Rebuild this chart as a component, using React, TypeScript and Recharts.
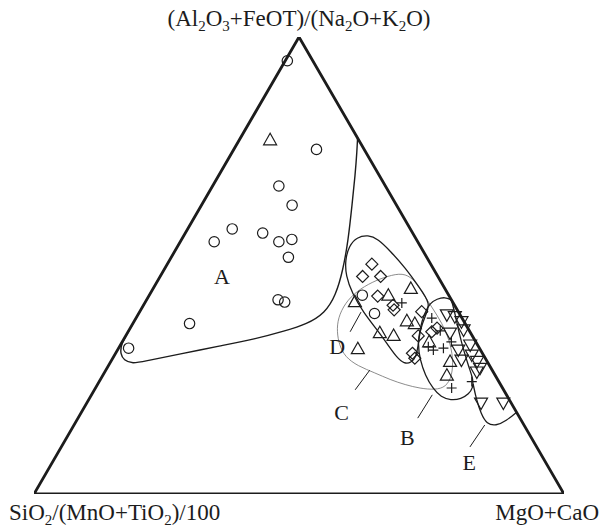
import { ComposedChart, Line, Scatter, XAxis, YAxis } from 'recharts';

// Ternary samples as [top, right] percentages; left = 100 - top - right.
// top = (Al2O3+FeOT)/(Na2O+K2O), left = SiO2/(MnO+TiO2)/100, right = MgO+CaO
type Tern = [number, number];

const circles: Tern[] = [
  [94.8, 0.4], [75.4, 15.6], [67.4, 12.5], [63.2, 17.1], [58.0, 8.4], [55.2, 6.4],
  [57.1, 14.6], [55.2, 18.6], [55.7, 20.8], [51.8, 22.1], [42.5, 24.8], [42.0, 26.3],
  [37.3, 10.7], [31.9, 1.9], [43.5, 40.2], [39.5, 44.5],
];
const triangles: Tern[] = [
  [77.5, 5.8], [42.1, 39.5], [43.5, 45.1], [45.0, 48.6], [35.3, 47.6], [34.7, 50.5],
  [31.8, 45.2], [37.9, 51.4], [37.3, 53.2], [29.0, 64.0], [26.0, 64.9], [33.3, 57.9],
];
const diamonds: Tern[] = [
  [50.3, 38.6], [47.6, 38.2], [47.6, 41.6], [43.3, 43.2], [41.3, 47.1], [40.3, 47.8],
  [39.9, 53.2], [34.6, 55.2], [30.8, 56.0], [29.7, 57.0], [35.5, 57.3], [36.3, 57.9],
];
const crosses: Tern[] = [
  [41.8, 48.5], [38.5, 55.8], [35.7, 58.8], [32.2, 58.3], [31.5, 59.6], [31.9, 61.3],
  [33.3, 62.1], [23.2, 67.2], [24.6, 70.3],
];
const invTriangles: Tern[] = [
  [39.2, 58.3], [38.8, 60.0], [37.7, 61.8], [35.9, 63.1], [35.2, 60.9], [31.5, 64.3],
  [32.6, 66.0], [30.4, 67.4], [29.3, 66.0], [29.0, 69.1], [27.5, 70.4], [26.7, 70.2],
  [19.9, 74.4], [19.9, 78.6],
];

// field outlines (corner points repeated so the spline keeps them sharp)
const fieldA: Tern[] = [
  [100, 0], [100, 0], [100, 0], [77.9, 22.1], [77.9, 22.1], [77.9, 22.1],
  [75.3, 23.3], [69.8, 25.7], [63.2, 28.4], [55.6, 31.5], [49.0, 33.8], [43.5, 35.2],
  [39.6, 35.1], [37.2, 32.9], [35.7, 29.5], [33.9, 24.7], [32.4, 18.9], [30.6, 12.2],
  [29.1, 6.4], [28.5, 4.3], [29.3, 2.3], [30.6, 1.0], [32.8, 0], [36.0, 0],
];
const fieldD: Tern[] = [
  [56.7, 34.7], [55.8, 37.0], [53.2, 40.6], [49.5, 45.3], [45.3, 50.0], [41.6, 54.1],
  [39.0, 54.3], [35.9, 54.9], [32.6, 56.2], [30.0, 57.1], [28.7, 56.8], [28.5, 55.6],
  [29.8, 53.6], [32.6, 50.5], [35.9, 46.8], [39.8, 42.2], [44.0, 38.0], [47.7, 35.0],
  [51.2, 33.1], [54.3, 32.3], [56.2, 32.8],
];
const fieldC: Tern[] = [
  [48.4, 45.4], [47.1, 48.0], [44.6, 50.7], [40.9, 54.6], [37.4, 58.3], [33.7, 61.5],
  [29.8, 64.2], [25.8, 66.0], [23.4, 66.0], [22.8, 64.3], [23.1, 61.3], [23.9, 58.1],
  [25.0, 54.7], [26.5, 51.1], [28.0, 47.1], [30.0, 43.7], [32.6, 41.3], [35.5, 39.4],
  [38.5, 38.1], [41.8, 37.8], [44.4, 38.7], [46.4, 40.6], [47.7, 42.9],
];
const fieldB: Tern[] = [
  [41.8, 53.8], [42.7, 54.7], [43.1, 56.0], [42.5, 57.5], [42.5, 57.5], [39.2, 59.9],
  [35.2, 62.6], [31.1, 65.6], [27.6, 68.3], [25.0, 70.4], [23.2, 71.2], [21.9, 71.1],
  [20.8, 70.2], [20.5, 68.4], [21.2, 66.2], [23.0, 63.8], [26.0, 60.8], [29.3, 58.2],
  [32.8, 56.0], [36.3, 54.7], [39.4, 53.9],
];
const fieldE: Tern[] = [
  [24.1, 70.8], [21.0, 72.9], [17.5, 75.6], [15.3, 77.8], [14.9, 79.7], [16.0, 81.1], [17.9, 82.1],
];
const leaders: Tern[][] = [
  [[35.5, 41.9], [39.8, 41.8]],
  [[22.8, 49.2], [27.1, 49.8]],
  [[16.6, 64.1], [21.7, 64.3]],
  [[10.3, 77.1], [15.1, 77.5]],
];
const fieldNames = ['A', 'B', 'C', 'D', 'E'];
const fieldLabelPos: Tern[] = [[47.5, 11.7], [12.3, 64.3], [17.9, 49.1], [32.2, 41.1], [6.8, 78.7]];
const frame: Tern[] = [[100, 0], [0, 100], [0, 0]];

// apex titles; "_" marks a subscript run
const topTitle = ['(Al', '_2', 'O', '_3', '+FeOT)/(Na', '_2', 'O+K', '_2', 'O)'];
const leftTitle = ['SiO', '_2', '/(MnO+TiO', '_2', ')/100'];
const rightTitle = ['MgO+CaO'];

// ternary -> plane (x along the base, y = height of apex)
const toXY = (pts: Tern[]) => pts.map(([t, r]) => ({ x: r + t / 2, y: t }));

const INK = '#1c1c1c';
const SERIF = '"Liberation Serif", "Times New Roman", serif';
const FONT = 23;

type Kind = 'circle' | 'tri' | 'diamond' | 'cross' | 'invtri';

const Marker = ({ cx, cy, kind }: { cx: number; cy: number; kind: Kind }) => {
  const common = { fill: 'none', stroke: INK, strokeWidth: 1.2 };
  if (kind === 'circle') return <circle cx={cx} cy={cy} r={5.2} {...common} />;
  if (kind === 'tri')
    return <polygon points={`${cx},${cy - 6.5} ${cx - 6.5},${cy + 5} ${cx + 6.5},${cy + 5}`} {...common} />;
  if (kind === 'invtri')
    return <polygon points={`${cx},${cy + 6.5} ${cx - 6.5},${cy - 5} ${cx + 6.5},${cy - 5}`} {...common} />;
  if (kind === 'diamond')
    return <polygon points={`${cx},${cy - 6} ${cx + 6},${cy} ${cx},${cy + 6} ${cx - 6},${cy}`} {...common} />;
  return <path d={`M${cx - 5},${cy}H${cx + 5}M${cx},${cy - 5}V${cy + 5}`} {...common} />;
};

const sets: { name: string; kind: Kind; pts: Tern[] }[] = [
  { name: 'circles', kind: 'circle', pts: circles },
  { name: 'triangles', kind: 'tri', pts: triangles },
  { name: 'diamonds', kind: 'diamond', pts: diamonds },
  { name: 'crosses', kind: 'cross', pts: crosses },
  { name: 'invTriangles', kind: 'invtri', pts: invTriangles },
];

const labelData = toXY(fieldLabelPos).map((p, i) => ({ ...p, name: fieldNames[i] }));

// chemical formula text with real subscripts
const Formula = ({ parts, x, y, anchor = 'start' }: { parts: string[]; x: number; y: number; anchor?: string }) => {
  let shifted = false;
  return (
    <text x={x} y={y} textAnchor={anchor}>
      {parts.map((p, i) => {
        const sub = p.startsWith('_');
        const dy = sub ? (shifted ? 0 : 5) : shifted ? -5 : 0;
        shifted = sub;
        return (
          <tspan key={i} dy={dy} fontSize={sub ? 15 : FONT}>
            {sub ? p.slice(1) : p}
          </tspan>
        );
      })}
    </text>
  );
};

export default function App() {
  const W = 601;
  const H = 532;
  return (
    <div style={{ position: 'absolute', left: 0, top: 0, width: W, height: H, background: '#fff' }}>
      <ComposedChart width={W} height={H} margin={{ top: 37, right: 37, bottom: 38, left: 34 }}>
        <XAxis type="number" dataKey="x" domain={[0, 100]} hide allowDataOverflow />
        <YAxis type="number" dataKey="y" domain={[0, 100]} hide allowDataOverflow />

        <Line data={toXY(fieldC)} dataKey="y" type="basisClosed" stroke="#6e6e6e" strokeWidth={0.8}
          dot={false} activeDot={false} isAnimationActive={false} />
        <Line data={toXY(fieldA)} dataKey="y" type="basisClosed" stroke={INK} strokeWidth={1.4}
          dot={false} activeDot={false} isAnimationActive={false} />
        <Line data={toXY(fieldD)} dataKey="y" type="basisClosed" stroke={INK} strokeWidth={1.3}
          dot={false} activeDot={false} isAnimationActive={false} />
        <Line data={toXY(fieldB)} dataKey="y" type="basisClosed" stroke={INK} strokeWidth={1.3}
          dot={false} activeDot={false} isAnimationActive={false} />
        <Line data={toXY(fieldE)} dataKey="y" type="basis" stroke={INK} strokeWidth={1.3}
          dot={false} activeDot={false} isAnimationActive={false} />
        {leaders.map((seg, i) => (
          <Line key={`lead${i}`} data={toXY(seg)} dataKey="y" type="linear" stroke={INK} strokeWidth={1}
            dot={false} activeDot={false} isAnimationActive={false} />
        ))}
        <Line data={toXY(frame)} dataKey="y" type="linearClosed" stroke={INK} strokeWidth={2.8}
          strokeLinejoin="miter" dot={false} activeDot={false} isAnimationActive={false} />

        {sets.map((s) => (
          <Scatter key={s.name} name={s.name} data={toXY(s.pts)} isAnimationActive={false}
            shape={(p: any) => <Marker cx={p.cx} cy={p.cy} kind={s.kind} />} />
        ))}
        <Scatter data={labelData} isAnimationActive={false}
          shape={(p: any) => (
            <text x={p.cx} y={p.cy} textAnchor="middle" dominantBaseline="central"
              fontFamily={SERIF} fontSize={22} fill={INK}>
              {p.payload.name}
            </text>
          )} />
      </ComposedChart>

      <svg width={W} height={H} style={{ position: 'absolute', left: 0, top: 0, pointerEvents: 'none' }}>
        <g fontFamily={SERIF} fontSize={FONT} fill={INK}>
          <Formula parts={topTitle} x={299} y={26} anchor="middle" />
          <Formula parts={leftTitle} x={9} y={520} />
          <Formula parts={rightTitle} x={599} y={520} anchor="end" />
        </g>
      </svg>
    </div>
  );
}
